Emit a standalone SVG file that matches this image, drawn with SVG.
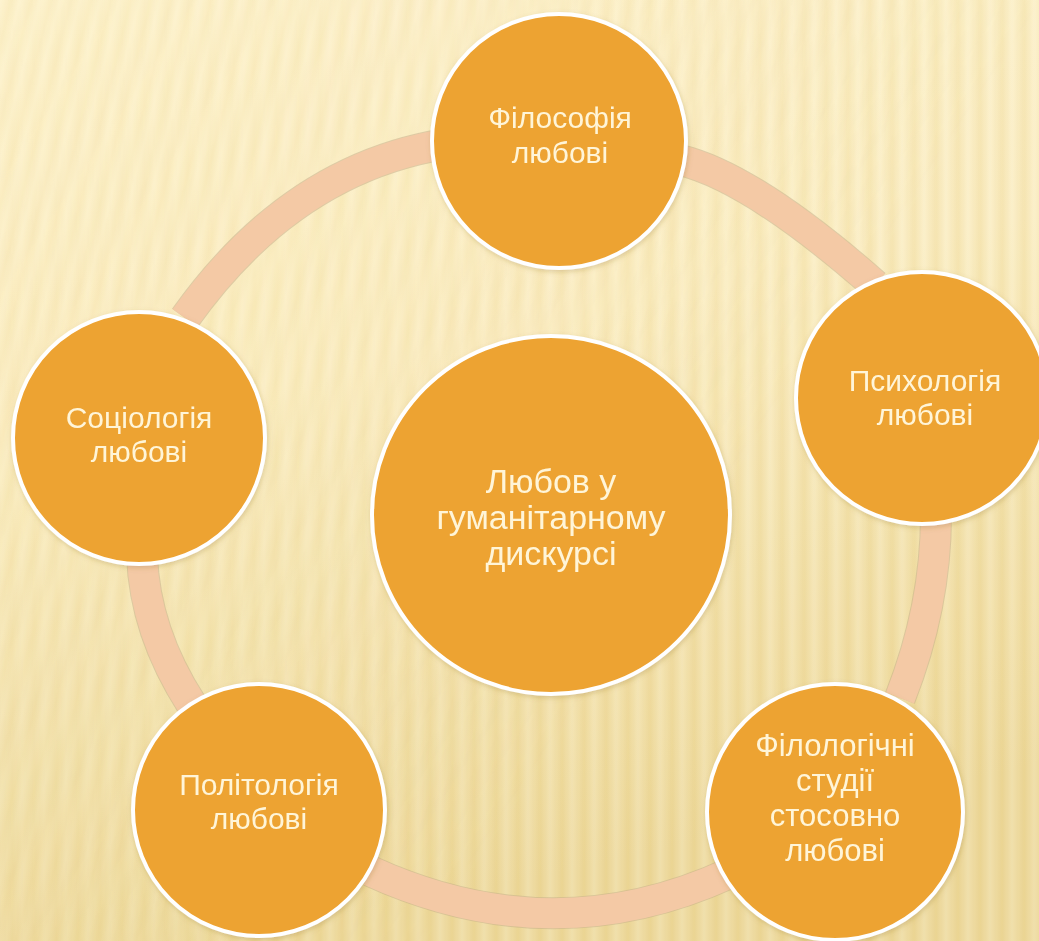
<svg xmlns="http://www.w3.org/2000/svg" width="1039" height="941" viewBox="0 0 1039 941">
  <defs>
    <linearGradient id="bg" x1="0" y1="0" x2="0.25" y2="1">
      <stop offset="0" stop-color="#FDF2CB"/>
      <stop offset="0.45" stop-color="#FBEDC0"/>
      <stop offset="1" stop-color="#EEDA9C"/>
    </linearGradient>
    <linearGradient id="stripeG" x1="0" y1="0" x2="1" y2="0">
      <stop offset="0" stop-color="#FFFFFF" stop-opacity="0.16"/>
      <stop offset="0.55" stop-color="#D9B760" stop-opacity="0.15"/>
      <stop offset="1" stop-color="#FFFFFF" stop-opacity="0.16"/>
    </linearGradient>
    <linearGradient id="stripeD" x1="0" y1="0" x2="1" y2="0">
      <stop offset="0" stop-color="#FFFFFF" stop-opacity="0.08"/>
      <stop offset="0.55" stop-color="#D9B760" stop-opacity="0.08"/>
      <stop offset="1" stop-color="#FFFFFF" stop-opacity="0.08"/>
    </linearGradient>
    <pattern id="vstripes" width="22" height="941" patternUnits="userSpaceOnUse">
      <rect width="22" height="941" fill="url(#stripeG)"/>
    </pattern>
    <pattern id="dstripes" width="20" height="941" patternUnits="userSpaceOnUse" patternTransform="skewX(-14)">
      <rect width="20" height="941" fill="url(#stripeD)"/>
    </pattern>
    <linearGradient id="fadeG" x1="0" y1="0" x2="1" y2="0.6">
      <stop offset="0" stop-color="#fff" stop-opacity="1"/>
      <stop offset="0.45" stop-color="#fff" stop-opacity="0.6"/>
      <stop offset="0.75" stop-color="#fff" stop-opacity="0"/>
    </linearGradient>
    <mask id="fadeMask">
      <rect width="1039" height="941" fill="url(#fadeG)"/>
    </mask>
    <linearGradient id="invFadeG" x1="0" y1="0" x2="1" y2="0.6">
      <stop offset="0" stop-color="#fff" stop-opacity="0.15"/>
      <stop offset="0.45" stop-color="#fff" stop-opacity="0.5"/>
      <stop offset="0.75" stop-color="#fff" stop-opacity="1"/>
    </linearGradient>
    <mask id="invMask">
      <rect width="1039" height="941" fill="url(#invFadeG)"/>
    </mask>
    <filter id="shadow" x="-10%" y="-10%" width="120%" height="120%">
      <feDropShadow dx="1" dy="2" stdDeviation="2.5" flood-color="#8A6A20" flood-opacity="0.25"/>
    </filter>
  </defs>
  <style>
    .node circle { fill: #EDA332; stroke: #FFFFFF; stroke-width: 4; }
    .node text { font-family: "Liberation Sans", Arial, sans-serif; fill: #FFF5D8; text-anchor: middle; }
    .small text { font-size: 30px; }
    .big text { font-size: 34px; }
    .four text { font-size: 31px; }
    .ring-edge { fill: none; stroke: #C7AE8A; stroke-width: 32; stroke-opacity: 0.55; }
    .ring { fill: none; stroke: #F4C9A5; stroke-width: 30; }
  </style>

  <g id="background">
    <rect width="1039" height="941" fill="url(#bg)"/>
    <rect width="1039" height="941" fill="url(#vstripes)" mask="url(#invMask)"/>
    <rect width="1039" height="941" fill="url(#dstripes)" mask="url(#fadeMask)"/>
  </g>

  <g id="connectors">
    <path class="ring-edge" d="M680,160 Q752.5,177.5 875,285"/>
    <path class="ring-edge" d="M936,515 Q936,606.5 900,698"/>
    <path class="ring-edge" d="M370,871 Q551.5,954 728,874"/>
    <path class="ring-edge" d="M142,555 Q144.5,631.5 192,705"/>
    <path class="ring-edge" d="M185,318 Q291,169 445,144"/>
    <path class="ring" d="M680,160 Q752.5,177.5 875,285"/>
    <path class="ring" d="M936,515 Q936,606.5 900,698"/>
    <path class="ring" d="M370,871 Q551.5,954 728,874"/>
    <path class="ring" d="M142,555 Q144.5,631.5 192,705"/>
    <path class="ring" d="M185,318 Q291,169 445,144"/>
  </g>

  <g id="node-center" class="node big" filter="url(#shadow)">
    <circle cx="551" cy="515" r="179"/>
    <text x="551" y="493">Любов у</text>
    <text x="551" y="529">гуманітарному</text>
    <text x="551" y="565">дискурсі</text>
  </g>

  <g id="node-philosophy" class="node small" filter="url(#shadow)">
    <circle cx="559" cy="141" r="127"/>
    <text x="560" y="128">Філософія</text>
    <text x="560" y="163">любові</text>
  </g>

  <g id="node-psychology" class="node small" filter="url(#shadow)">
    <circle cx="922" cy="398" r="126"/>
    <text x="925" y="391">Психологія</text>
    <text x="925" y="425">любові</text>
  </g>

  <g id="node-philology" class="node four" filter="url(#shadow)">
    <circle cx="835" cy="812" r="128"/>
    <text x="835" y="756">Філологічні</text>
    <text x="835" y="791">студії</text>
    <text x="835" y="826">стосовно</text>
    <text x="835" y="861">любові</text>
  </g>

  <g id="node-politics" class="node small" filter="url(#shadow)">
    <circle cx="259" cy="810" r="126"/>
    <text x="259" y="795">Політологія</text>
    <text x="259" y="829">любові</text>
  </g>

  <g id="node-sociology" class="node small" filter="url(#shadow)">
    <circle cx="139" cy="438" r="126"/>
    <text x="139" y="428">Соціологія</text>
    <text x="139" y="462">любові</text>
  </g>
</svg>
